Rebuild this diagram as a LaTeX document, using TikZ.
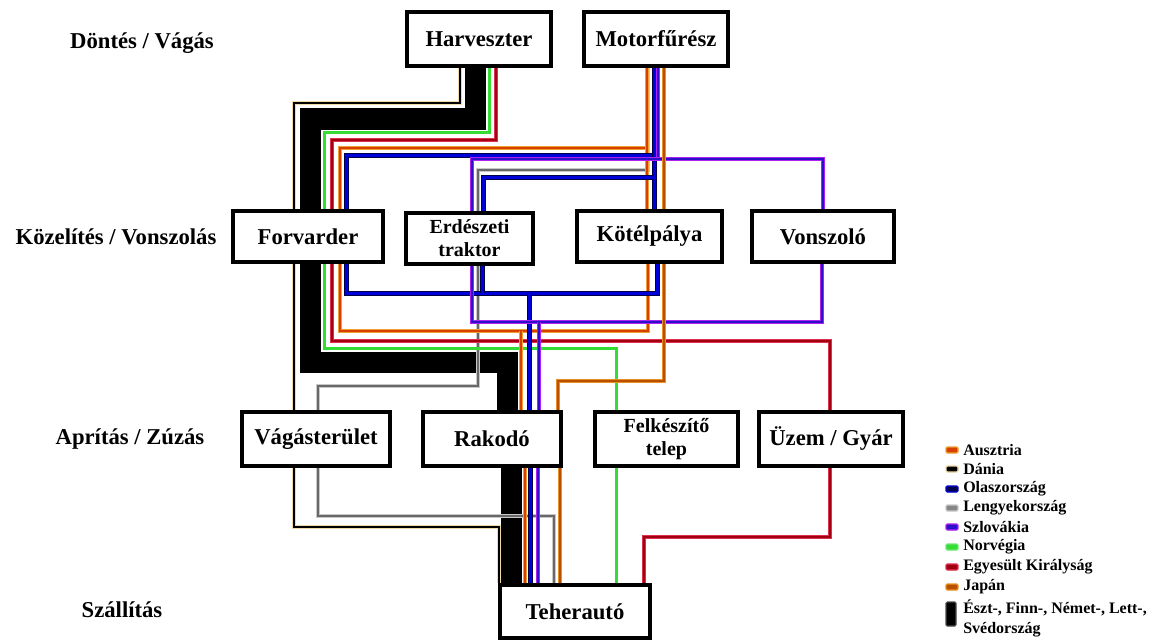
\documentclass[tikz,border=0pt]{standalone}
\usepackage{fontspec}
\setmainfont{Liberation Serif}
\definecolor{ausO}{HTML}{F0A030}
\definecolor{ausI}{HTML}{D84000}
\definecolor{danO}{HTML}{F2D9A8}
\definecolor{itaO}{HTML}{000048}
\definecolor{itaI}{HTML}{0000D8}
\definecolor{slkO}{HTML}{B020F0}
\definecolor{slkI}{HTML}{2A10C8}
\definecolor{norG}{HTML}{33DD33}
\definecolor{ukO}{HTML}{E03050}
\definecolor{ukI}{HTML}{A00010}
\definecolor{jpO}{HTML}{E89020}
\definecolor{jpI}{HTML}{B85000}
\definecolor{plO}{HTML}{C8C8C8}
\definecolor{plI}{HTML}{686868}
\begin{document}
\begin{tikzpicture}[x=0.75pt,y=-0.75pt,
  box/.style={draw, line width=3pt, fill=white, inner sep=0pt, align=center,
    font=\bfseries\fontsize{17}{20}\selectfont},
  boxsmall/.style={box, font=\bfseries\fontsize{15}{17.5}\selectfont},
  stage/.style={font=\bfseries\fontsize{17}{20}\selectfont, inner sep=0pt},
  legtext/.style={font=\bfseries\fontsize{12}{14}\selectfont, anchor=west, inner sep=0pt},
  blk/.style={line width=15.75pt, black, line join=miter},
  dan/.style={draw=danO, double=black, line width=0.95pt, double distance=1.5pt, line join=miter},
  aus/.style={draw=ausO, double=ausI, line width=0.7pt, double distance=2pt, line join=miter},
  ita/.style={draw=itaO, double=itaI, line width=0.75pt, double distance=2.25pt, line join=miter},
  slk/.style={draw=slkO, double=slkI, line width=0.6pt, double distance=2.2pt, line join=miter},
  ukl/.style={draw=ukO, double=ukI, line width=0.6pt, double distance=2.2pt, line join=miter},
  jp/.style={draw=jpO, double=jpI, line width=0.75pt, double distance=1.1pt, line join=miter},
  pl/.style={draw=plO, double=plI, line width=0.55pt, double distance=1.5pt, line join=miter},
  nor/.style={draw=norG, line width=2.25pt, line join=miter},
  swatch/.style={rounded corners=1pt, line width=0.9pt}
]
\useasboundingbox (0,0) rectangle (1157,642);
\fill[white] (0,0) rectangle (1157,642);

% stage labels
\node[stage] (s1) at (142,43) {Döntés / Vágás};
\node[stage] (s2) at (116,237) {Közelítés / Vonszolás};
\node[stage] (s3) at (130,439) {Aprítás / Zúzás};
\node[stage] (s4) at (122,610) {Szállítás};

% boxes
\node[box, minimum width=108pt, minimum height=40.5pt] (harv) at (479,39) {Harveszter};
\node[box, minimum width=108pt, minimum height=40.5pt] (motor) at (656,39) {Motorfűrész};
\node[box, minimum width=112.5pt, minimum height=38.25pt] (forv) at (308,236.5) {Forvarder};
\node[boxsmall, minimum width=95.25pt, minimum height=38.25pt] (erd) at (469.5,238) {Erdészeti\\traktor};
\node[box, minimum width=108.75pt, minimum height=38.25pt] (kotel) at (649.5,236.5) {Kötélpálya};
\node[box, minimum width=106.5pt, minimum height=38.25pt] (vonsz) at (823,236.5) {Vonszoló};
\node[box, minimum width=111pt, minimum height=40.5pt] (vagas) at (316,439) {Vágásterület};
\node[box, minimum width=103.5pt, minimum height=40.5pt] (rak) at (492,439) {Rakodó};
\node[boxsmall, minimum width=107.25pt, minimum height=40.5pt] (felk) at (666.5,439) {Felkészítő\\telep};
\node[box, minimum width=108pt, minimum height=40.5pt] (uzem) at (831,439) {Üzem / Gyár};
\node[box, minimum width=112.5pt, minimum height=39.75pt] (teher) at (575,611.5) {Teherautó};

% junction coordinates
\coordinate (jaus) at (521,331);
\coordinate (jita1) at (654,177);
\coordinate (jita2) at (482,293);
\coordinate (jita3) at (529,293);
\coordinate (jslk1) at (658,159);
\coordinate (jslk2) at (539,322);

% Dania
\draw[dan] (460,0 |- harv.south) |- (294,103) -- (294,0 |- forv.north);
\draw[dan] (294,0 |- forv.south) -- (294,0 |- vagas.north);
\draw[dan] (294,0 |- vagas.south) |- (499,527) -- (499,0 |- teher.north);

% thick black
\draw[blk] (475,0 |- harv.south) |- (310,119) -- (310,0 |- forv.north);
\draw[blk] (310,0 |- forv.south) |- (507.5,362) -- (507.5,0 |- rak.north);
\draw[blk] (511,0 |- rak.south) -- (511,0 |- teher.north);

% Lengyelorszag
\draw[pl] (648,0 |- motor.south) |- (478,170) -- (478,0 |- erd.north);
\draw[pl] (478,0 |- erd.south) |- (318,386) -- (318,0 |- vagas.north);
\draw[pl] (318,0 |- vagas.south) |- (554,516) -- (554,0 |- teher.north);

% Egyesult Kiralysag
\draw[ukl] (496,0 |- harv.south) |- (332,140) -- (332,0 |- forv.north);
\draw[ukl] (332,0 |- forv.south) |- (830,341) -- (830,0 |- uzem.north);
\draw[ukl] (830,0 |- uzem.south) |- (644,537) -- (644,0 |- teher.north);

% Norvegia
\draw[nor] (489,0 |- harv.south) |- (324,132) -- (324,0 |- forv.north);
\draw[nor] (324,0 |- forv.south) |- (616,348) -- (616,0 |- felk.north);
\draw[nor] (616,0 |- felk.south) -- (616,0 |- teher.north);

% Ausztria
\draw[aus] (647,0 |- motor.south) |- (340,148) -- (340,0 |- forv.north);
\draw[aus] (647,0 |- motor.south) -- (647,0 |- kotel.north);
\draw[aus] (340,0 |- forv.south) |- (648,331) -- (648,0 |- kotel.south);
\draw[aus] (jaus) -- (jaus |- rak.north);
\draw[aus] (525,0 |- rak.south) -- (525,0 |- teher.north);

% Olaszorszag
\draw[ita] (654,0 |- motor.south) |- (346,155) -- (346,0 |- forv.north);
\draw[ita] (654,0 |- motor.south) -- (654,0 |- kotel.north);
\draw[ita] (jita1) -| (483,0 |- erd.north);
\draw[ita] (346,0 |- forv.south) |- (657,293) -- (657,0 |- kotel.south);
\draw[ita] (jita2 |- erd.south) -- (jita2);
\draw[ita] (jita3) -- (jita3 |- rak.north);
\draw[ita] (530,0 |- rak.south) -- (530,0 |- teher.north);

% Szlovakia
\draw[slk] (658,0 |- motor.south) -- (jslk1);
\draw[slk] (472,0 |- erd.north) |- (823,159) -- (823,0 |- vonsz.north);
\draw[slk] (472,0 |- erd.south) |- (822,322) -- (822,0 |- vonsz.south);
\draw[slk] (jslk2) -- (jslk2 |- rak.north);
\draw[slk] (538,0 |- rak.south) -- (538,0 |- teher.north);

% Japan
\draw[jp] (664,0 |- motor.south) -- (664,0 |- kotel.north);
\draw[jp] (664,0 |- kotel.south) |- (558,381) -- (558,0 |- rak.north);
\draw[jp] (560,0 |- rak.south) -- (560,0 |- teher.north);

% legend
\draw[swatch, draw=ausO, fill=ausI] (946,447) rectangle (958,453);
\node[legtext] (l1) at (963,450) {Ausztria};
\draw[swatch, draw=danO, fill=black] (946,466) rectangle (958,472);
\node[legtext] (l2) at (963,469) {Dánia};
\draw[swatch, draw=itaI, fill=itaO] (946,486) rectangle (958,492);
\node[legtext] (l3) at (963,489) {Olaszország};
\draw[swatch, draw=plO, fill=plI!80] (946,505) rectangle (958,511);
\node[legtext] (l4) at (963,508) {Lengyekország};
\draw[swatch, draw=slkO, fill=slkI] (946,524) rectangle (958,530);
\node[legtext] (l5) at (963,527) {Szlovákia};
\draw[swatch, draw=norG!70, fill=norG] (946,544) rectangle (958,550);
\node[legtext] (l6) at (963,547) {Norvégia};
\draw[swatch, draw=ukO, fill=ukI] (946,564) rectangle (958,570);
\node[legtext] (l7) at (963,567) {Egyesült Királyság};
\draw[swatch, draw=jpO, fill=jpI] (946,584) rectangle (958,590);
\node[legtext] (l8) at (963,587) {Japán};
\draw[swatch, draw=black!70, fill=black] (946,602) rectangle (956,626);
\node[legtext] (l9) at (963,608) {Észt-, Finn-, Német-, Lett-,};
\node[legtext] (l10) at (963,630) {Svédország};
\end{tikzpicture}
\end{document}
